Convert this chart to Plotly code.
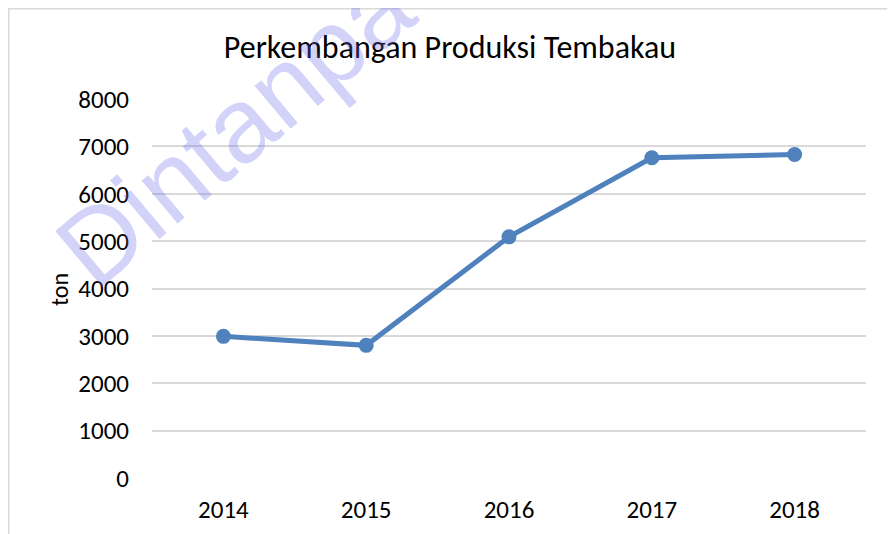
import plotly.graph_objects as go

years = ["2014", "2015", "2016", "2017", "2018"]
produksi = [2990, 2800, 5090, 6760, 6830]
y_ticks = [0, 1000, 2000, 3000, 4000, 5000, 6000, 7000, 8000]

FONT = "Calibri, Carlito, 'Open Sans', sans-serif"

# page body has an 8px margin, so the figure starts at (8, 8) in the window
OFF = 8
W, H = 895 - OFF, 534 - OFF
L, R, T, B = 152 - OFF, 29, 99 - OFF, 56
pw, ph = W - L - R, H - T - B


def px(x):
    return (x - OFF - L) / pw


def py(y):
    return (H - B - (y - OFF)) / ph


fig = go.Figure()
fig.add_trace(go.Scatter(
    x=years, y=produksi, mode="lines+markers",
    line=dict(color="#4f81bd", width=5),
    marker=dict(color="#4f81bd", size=15),
    showlegend=False,
))

fig.update_layout(
    width=W, height=H,
    margin=dict(l=L, r=R, t=T, b=B),
    paper_bgcolor="white", plot_bgcolor="white",
    font=dict(family=FONT, color="#000000", size=25),
    title=dict(text="Perkembangan Produksi Tembakau", x=(450 - OFF) / W, xanchor="center",
               y=1 - (47 - OFF) / H, yanchor="middle", font=dict(size=32)),
    xaxis=dict(type="category", range=[-0.5, 4.5], showgrid=False, showline=False,
               zeroline=False, ticks="", tickfont=dict(size=25), ticklabelstandoff=14,
               automargin=False),
    yaxis=dict(range=[0, 8000], tickvals=y_ticks, showgrid=True, gridcolor="#d9d9d9",
               gridwidth=1.5, zeroline=False, showline=False, ticks="",
               ticklabelstandoff=22, tickfont=dict(size=25), automargin=False),
    shapes=[dict(type="rect", xref="paper", yref="paper",
                 x0=px(8.5), x1=px(892), y0=py(545), y1=py(8.5),
                 line=dict(color="#d9d9d9", width=2), fillcolor="rgba(0,0,0,0)", layer="below")],
    annotations=[
        dict(text="ton", xref="paper", yref="paper", x=px(59), y=py(290),
             xanchor="center", yanchor="middle", showarrow=False, textangle=-90,
             font=dict(size=24)),
        dict(text="Dintanpa", xref="paper", yref="paper",
             x=px(234), y=py(128), xanchor="center", yanchor="middle",
             showarrow=False, textangle=-40,
             font=dict(family="'Liberation Sans', Arial, sans-serif", size=106,
                       color="rgba(110,110,240,0.3)")),
    ],
)

fig.write_html("out.html")
